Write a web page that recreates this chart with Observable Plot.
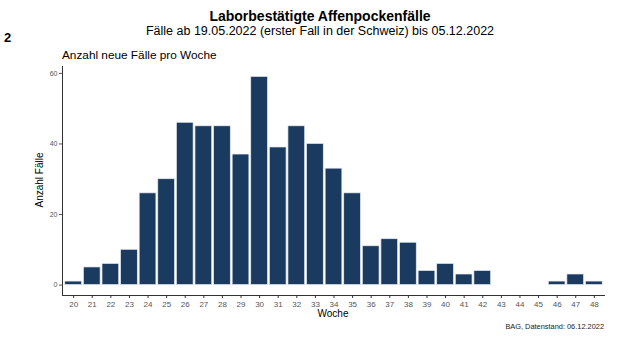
<!DOCTYPE html>
<html>
<head>
<meta charset="utf-8">
<script src="https://cdn.jsdelivr.net/npm/d3@7"></script>
<script src="https://cdn.jsdelivr.net/npm/@observablehq/plot@0.6"></script>
<style>
  html, body { margin: 0; padding: 0; background: #fff; }
  svg { display: block; }
</style>
</head>
<body>
<div id="chart"></div>
<script>
const weeks = ["20","21","22","23","24","25","26","27","28","29","30","31","32","33","34","35","36","37","38","39","40","41","42","43","44","45","46","47","48"];
const cases = [1,5,6,10,26,30,46,45,45,37,59,39,45,40,33,26,11,13,12,4,6,3,4,0,0,0,1,3,1];
const yTicks = [0,20,40,60];
const title = "Laborbestätigte Affenpockenfälle";
const subtitle = "Fälle ab 19.05.2022 (erster Fall in der Schweiz) bis 05.12.2022";
const panelTag = "2";
const yHeading = "Anzahl neue Fälle pro Woche";
const yLabel = "Anzahl Fälle";
const xLabel = "Woche";
const caption = "BAG, Datenstand: 06.12.2022";

const data = weeks.map((w, i) => ({week: w, n: cases[i]}));
const maxN = d3.max(cases);
const yMin = -0.05 * maxN, yMax = maxN * 1.05;

const W = 640, H = 353;
const mL = 62, mR = 35, mT = 66, mB = 58;
const font = "Liberation Sans, Arial, Helvetica, sans-serif";

const plot = Plot.plot({
  width: W,
  height: H,
  marginLeft: mL,
  marginRight: mR,
  marginTop: mT,
  marginBottom: mB,
  style: {fontFamily: font, background: "#fff"},
  x: {domain: weeks, paddingInner: 0.1, paddingOuter: 0.15, round: false, label: null},
  y: {domain: [yMin, yMax], label: null},
  marks: [
    Plot.barY(data.filter(d => d.n > 0), {
      x: "week", y: "n", fill: "#1a3a5f", stroke: "#e6ebf1", strokeWidth: 0.7
    }),
    Plot.ruleY([yMin], {stroke: "#333", strokeWidth: 1}),
    Plot.axisX({tickSize: 3, tickPadding: 3, fontSize: 8, color: "#555", label: null, stroke: "#333"}),
    Plot.axisY({ticks: yTicks, tickSize: 3, tickPadding: 2, fontSize: 7, color: "#555", label: null})
  ]
});

const svg = d3.select(plot);
svg.attr("font-family", font);
// left axis line
svg.append("line")
  .attr("x1", mL + 0.5).attr("x2", mL + 0.5)
  .attr("y1", mT).attr("y2", H - mB)
  .attr("stroke", "#333").attr("stroke-width", 1);

const addText = (txt, x, y, opts = {}) => {
  const t = svg.append("text").text(txt)
    .attr("x", x).attr("y", y)
    .attr("font-family", font)
    .attr("font-size", opts.size || 12)
    .attr("font-weight", opts.weight || "normal")
    .attr("fill", opts.fill || "#000")
    .attr("text-anchor", opts.anchor || "start");
  if (opts.rotate) t.attr("transform", `rotate(-90, ${x}, ${y})`);
  return t;
};

addText(title, 320, 21, {size: 14, weight: "bold", anchor: "middle"});
addText(subtitle, 320, 35, {size: 12.5, anchor: "middle"});
addText(panelTag, 4, 42, {size: 13, weight: "bold"});
addText(yHeading, 62, 59, {size: 11.8});
addText(yLabel, 43, 180, {size: 10, anchor: "middle", rotate: true});
addText(xLabel, 333, 317, {size: 10, anchor: "middle"});
addText(caption, 604, 329, {size: 7.4, anchor: "end", fill: "#222"});

document.getElementById("chart").appendChild(plot);
</script>
</body>
</html>
